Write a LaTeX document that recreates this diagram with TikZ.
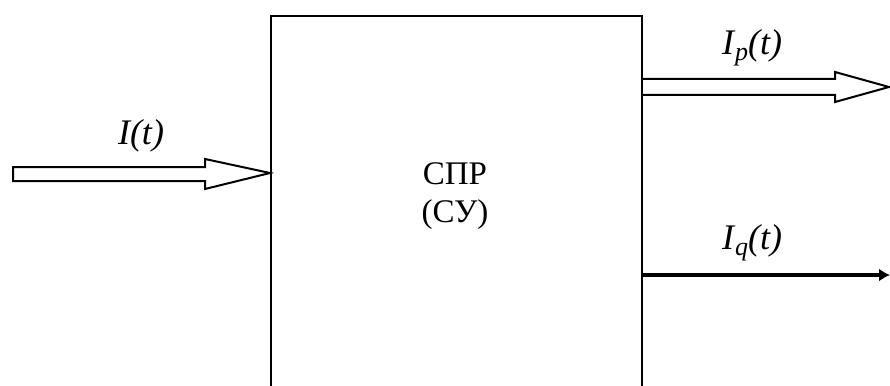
\documentclass[tikz,border=0pt]{standalone}
\usepackage{fontspec}
\setmainfont{Liberation Serif}
\usetikzlibrary{arrows.meta}
\begin{document}
\begin{tikzpicture}[x=1pt,y=-1pt,
  outline/.style={draw=black, line width=2pt, line join=miter},
  lbl/.style={font=\fontsize{36}{38}\selectfont\itshape, inner sep=0pt},
  boxtext/.style={font=\fontsize{33}{38}\selectfont, align=center, inner sep=0pt}]
\useasboundingbox (0,0) rectangle (890,385);
\begin{scope}
\clip (0,0) rectangle (890,385);
\node[outline, minimum width=371pt, minimum height=400pt, anchor=north west, inner sep=0pt] (box) at (270,15) {};
\end{scope}
\node[boxtext] (name) at (455,196) {СПР\\(СУ)};
% input hollow arrow
\draw[outline] (13,167) -- (205,167) -- (205,159) -- (270,173) -- (205,189) -- (205,181) -- (13,181) -- cycle;
\node[lbl] (lin) at (141,136) {I(t)};
% output hollow arrow
\draw[outline] (641,79) -- (835,79) -- (835,72) -- (889,87) -- (835,102) -- (835,95) -- (641,95);
\node[lbl] (lp) at (752,48) {I\kern1pt\raisebox{-0.35ex}{\fontsize{26}{28}\selectfont p}(t)};
% single arrow
\coordinate (qEnd) at (890,275);
\draw[line width=3.2pt, -{Latex[length=11pt,width=13pt]}] (box.east |- qEnd) -- (qEnd);
\node[lbl] (lq) at (752,243) {I\kern1pt\raisebox{-0.35ex}{\fontsize{26}{28}\selectfont q}(t)};
\end{tikzpicture}
\end{document}
